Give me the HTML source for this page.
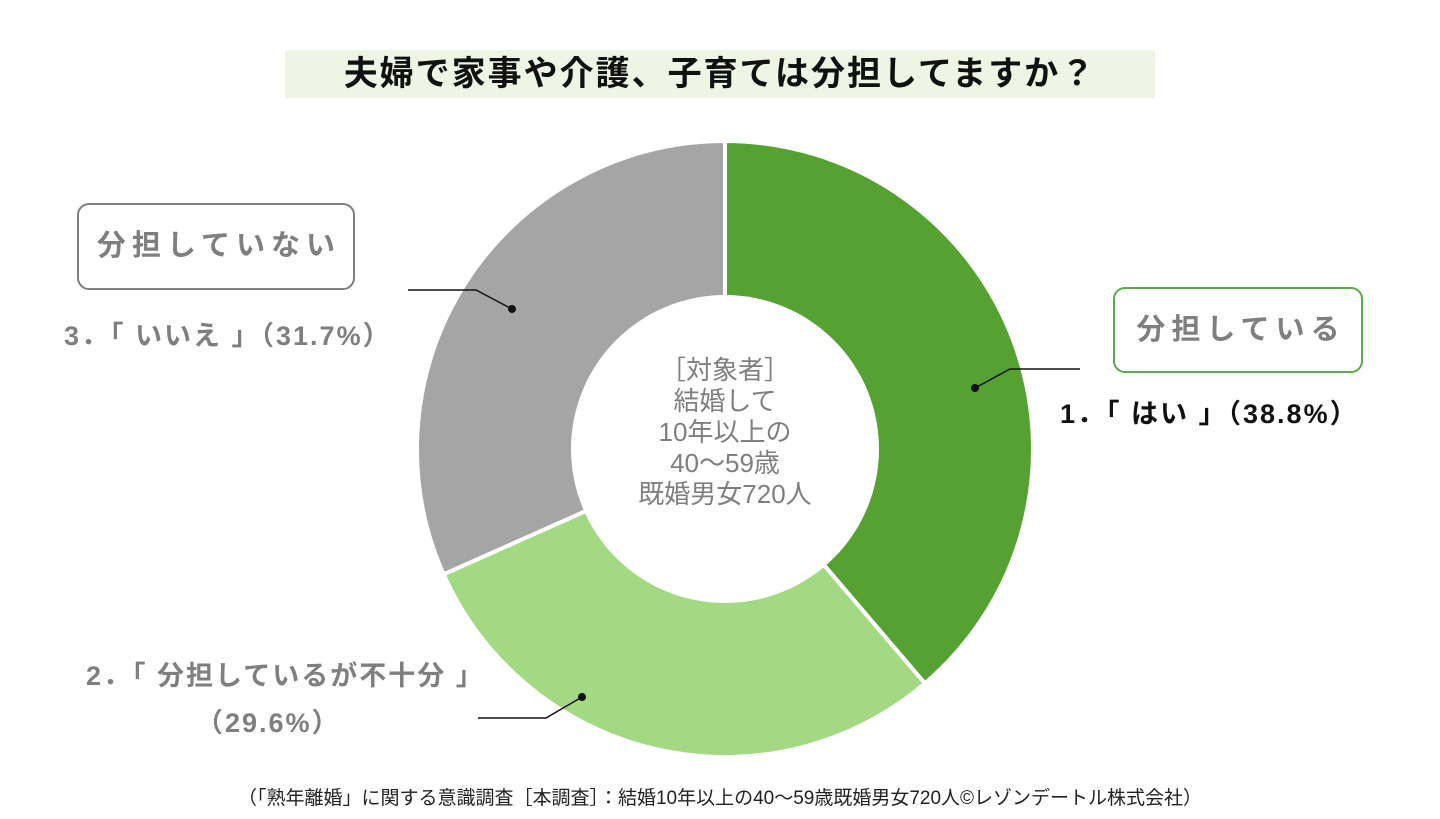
<!DOCTYPE html>
<html><head><meta charset="utf-8"><style>
html,body{margin:0;padding:0;background:#fff;}
body{width:1440px;height:819px;position:relative;overflow:hidden;font-family:"Liberation Sans","Noto Sans CJK JP",sans-serif;}
.abs{position:absolute;}
.lbl{font-size:27px;font-weight:bold;white-space:nowrap;letter-spacing:2px;}
</style></head><body>
<div class="abs" style="left:285px;top:50px;width:870px;height:48px;background:#eef5e5;"></div>
<div class="abs" style="left:285px;top:50px;width:870px;height:48px;line-height:48px;text-align:center;font-size:34px;font-weight:bold;color:#111;letter-spacing:2px;">夫婦で家事や介護、子育ては分担してますか？</div>
<svg class="abs" style="left:0;top:0" width="1440" height="819">
<g id="slices"></g>
<circle cx="725" cy="449" r="154" fill="#fff"/>
<g stroke="#111" stroke-width="1.5" fill="none">
<polyline points="1080,369 1010,369 975,388"/>
<polyline points="408,290 476,290 512,309"/>
<polyline points="478,718 546,718 582,697"/>
</g>
<g fill="#111"><circle cx="975" cy="388" r="4"/><circle cx="512" cy="309" r="4"/><circle cx="582" cy="697" r="4"/></g>
</svg>
<div class="abs" style="left:575px;top:355px;width:300px;text-align:center;font-size:26px;line-height:31px;color:#7f7f7f;">［対象者］<br>結婚して<br>10年以上の<br>40～59歳<br>既婚男女720人</div>
<div class="abs" style="left:77px;top:203px;width:274px;height:83px;border:2px solid #7f7f7f;border-radius:12px;line-height:83px;text-align:center;font-size:29px;font-weight:bold;color:#7f7f7f;letter-spacing:6px;text-indent:6px;">分担していない</div>
<div class="abs" style="left:1113px;top:287px;width:246px;height:82px;border:2px solid #5aab4a;border-radius:12px;line-height:82px;text-align:center;font-size:29px;font-weight:bold;color:#7f7f7f;letter-spacing:6px;text-indent:6px;">分担している</div>
<div class="abs lbl" style="left:1060px;top:392px;color:#111;">1．「 はい 」（38.8%）</div>
<div class="abs lbl" style="left:64px;top:314px;color:#7f7f7f;">3．「 いいえ 」（31.7%）</div>
<div class="abs lbl" style="left:86px;top:654px;color:#7f7f7f;">2．「 分担しているが不十分 」</div>
<div class="abs lbl" style="left:196px;top:701px;color:#7f7f7f;">（29.6%）</div>
<div class="abs" style="left:0;top:783px;width:1440px;text-align:center;font-size:19px;color:#222;">（「熟年離婚」に関する意識調査［本調査］：結婚10年以上の40～59歳既婚男女720人©レゾンデートル株式会社）</div>
<script>
const categories=["はい","分担しているが不十分","いいえ"];
const values=[38.8,29.6,31.7];
const colors=["#55a232","#a3d982","#a5a5a5"];
const cx=725,cy=449,R=308;
const g=document.getElementById('slices');
const total=values.reduce((a,b)=>a+b,0);
let acc=0;
function pt(f){const a=f*2*Math.PI;return [cx+R*Math.sin(a),cy-R*Math.cos(a)];}
values.forEach((v,i)=>{
  const s=acc/total,e=(acc+v)/total;acc+=v;
  const [x1,y1]=pt(s),[x2,y2]=pt(e);
  const p=document.createElementNS('http://www.w3.org/2000/svg','path');
  p.setAttribute('d',`M${cx},${cy} L${x1},${y1} A${R},${R} 0 ${e-s>0.5?1:0} 1 ${x2},${y2} Z`);
  p.setAttribute('fill',colors[i]);
  p.setAttribute('stroke','#fff');
  p.setAttribute('stroke-width','4');
  
  
  g.appendChild(p);
});
</script>
</body></html>
